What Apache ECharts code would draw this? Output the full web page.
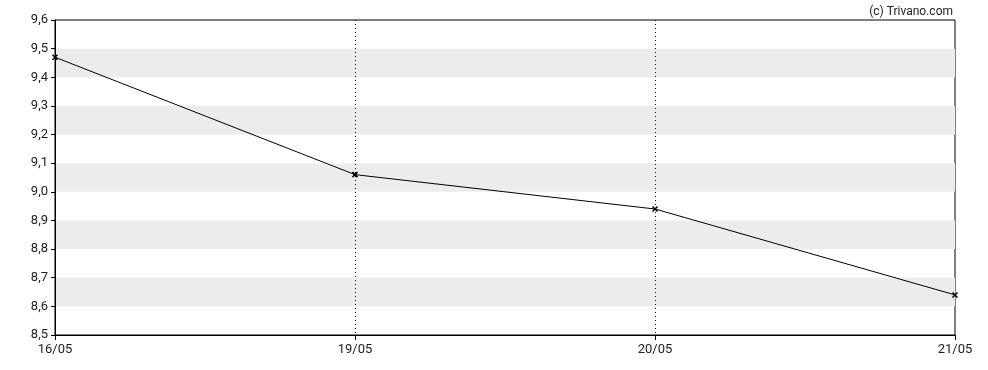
<!DOCTYPE html>
<html><head><meta charset="utf-8">
<script src="https://cdn.jsdelivr.net/npm/echarts@6/dist/echarts.min.js"></script>
<style>html,body{margin:0;padding:0;background:#fff}#c{width:988px;height:370px}</style>
</head><body><div id="c"></div>
<script>
const categories = ['16/05', '19/05', '20/05', '21/05'];
const values = [9.47, 9.06, 8.94, 8.64];
const yMin = 8.5, yMax = 9.6, yStep = 0.1;
const credit = '(c) Trivano.com';

const chart = echarts.init(document.getElementById('c'), null, {renderer: 'canvas'});
chart.setOption({
  animation: false,
  backgroundColor: '#fff',
  textStyle: {fontFamily: 'Roboto'},
  title: {
    text: credit, right: 30, top: 1,
    textStyle: {fontFamily: 'Roboto', fontSize: 12, fontWeight: 'normal', color: '#222'}
  },
  grid: {left: 55, right: 33, top: 20, bottom: 35, show: true, borderColor: '#000', borderWidth: 1, backgroundColor: 'transparent'},
  xAxis: {
    type: 'category', data: categories, boundaryGap: false,
    axisLine: {lineStyle: {color: '#000', width: 1}},
    axisTick: {show: true, length: 5, lineStyle: {color: '#000'}},
    axisLabel: {color: '#222', fontSize: 13, margin: 8, fontFamily: 'Roboto'},
    splitLine: {show: true, interval: (i) => i !== 0 && i !== categories.length - 1,
      lineStyle: {color: '#000', type: [1, 3], width: 1}}
  },
  yAxis: {
    type: 'value', min: yMin, max: yMax, interval: yStep,
    axisLine: {show: true, lineStyle: {color: '#000', width: 1}},
    axisTick: {show: true, length: 4, lineStyle: {color: '#000'}},
    axisLabel: {color: '#222', fontSize: 13, margin: 7, fontFamily: 'Roboto',
      formatter: v => v.toFixed(1).replace('.', ',')},
    splitLine: {show: false},
    splitArea: {show: true, areaStyle: {color: ['rgba(255,255,255,0)', '#ececec']}}
  },
  series: [{
    type: 'line', data: values,
    symbol: 'path://M0,0L10,10M10,0L0,10', symbolSize: 5,
    itemStyle: {color: '#000', borderColor: '#000', borderWidth: 1.5},
    lineStyle: {color: '#000', width: 1}
  }]
});
</script></body></html>
